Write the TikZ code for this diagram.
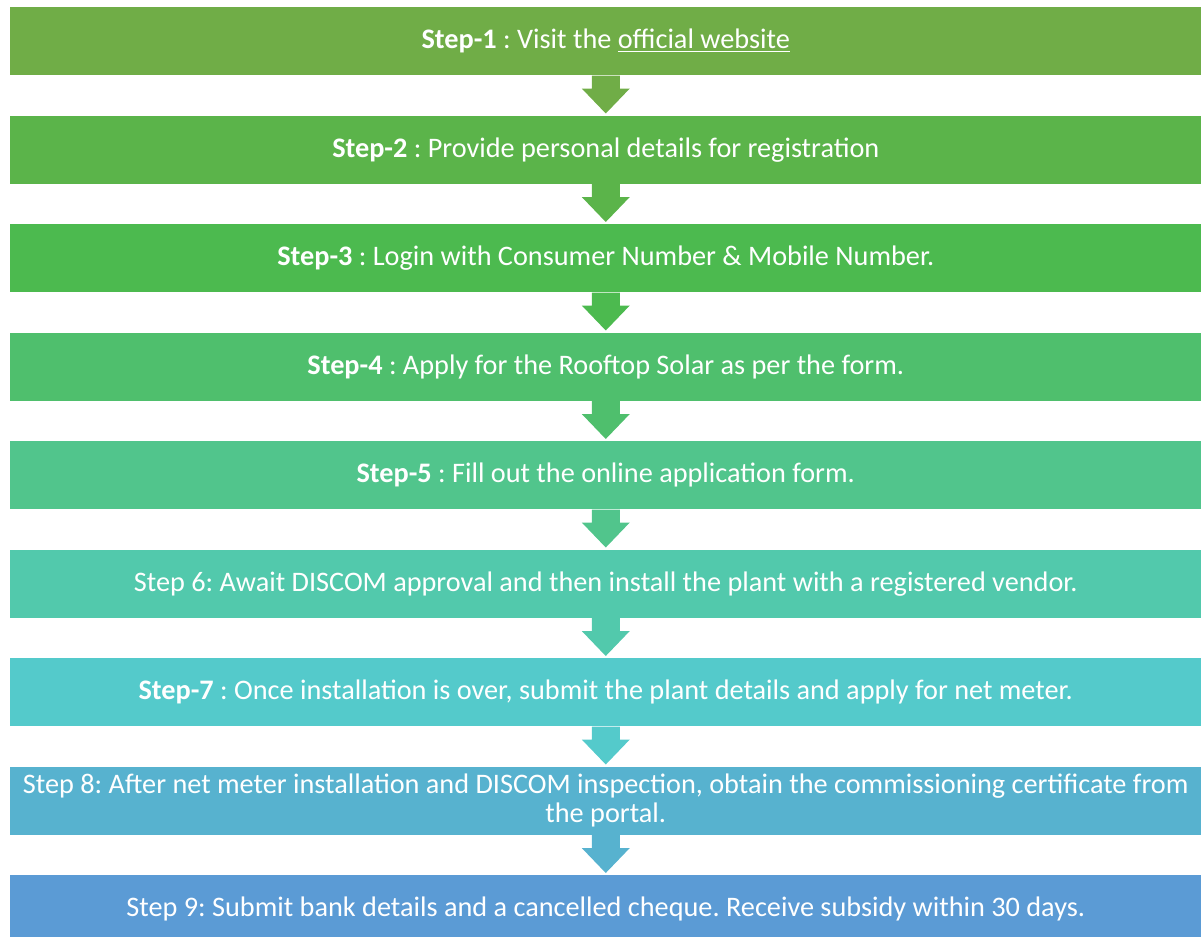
\documentclass[tikz,border=0pt]{standalone}
\usepackage{fontspec}
\setmainfont{Carlito}
\usetikzlibrary{calc}
\definecolor{c1}{HTML}{70AD47}
\definecolor{c2}{HTML}{5BB44A}
\definecolor{c3}{HTML}{4CBA4F}
\definecolor{c4}{HTML}{4FBF6D}
\definecolor{c5}{HTML}{51C58C}
\definecolor{c6}{HTML}{52C9AC}
\definecolor{c7}{HTML}{54CACB}
\definecolor{c8}{HTML}{57B2CF}
\definecolor{c9}{HTML}{5B9BD5}
\tikzset{
  stepbox/.style={draw=none, anchor=north west, minimum width=1191*0.75pt, minimum height=68*0.75pt,
    inner sep=0pt, text=white, font=\fontsize{21.2}{21.75}\selectfont\frenchspacing, align=center},
}
\newcommand{\flowarrow}[3]{%
  \fill[#3] ($(#1.south)+(-14,0)$) -- ($(#1.south)+(-14,13)$) -- ($(#1.south)+(-24,13)$)
    -- ($(#2.north)+(0,-2)$) -- ($(#1.south)+(24,13)$) -- ($(#1.south)+(14,13)$)
    -- ($(#1.south)+(14,0)$) -- cycle;}
\begin{document}
\begin{tikzpicture}[x=0.75pt,y=-0.75pt]
\useasboundingbox (0,0) rectangle (1201,937);
\clip (0,0) rectangle (1201,937);
\node[stepbox, fill=c1] (b1) at (10,7) {\textbf{Step-1} : Visit the \underline{official website}};
\node[stepbox, fill=c2] (b2) at (10,115.5) {\textbf{Step-2} : Provide personal details for registration};
\node[stepbox, fill=c3] (b3) at (10,224) {\textbf{Step-3} : Login with Consumer Number \& Mobile Number.};
\node[stepbox, fill=c4] (b4) at (10,332.5) {\textbf{Step-4} : Apply for the Rooftop Solar as per the form.};
\node[stepbox, fill=c5] (b5) at (10,441) {\textbf{Step-5} : Fill out the online application form.};
\node[stepbox, fill=c6] (b6) at (10,549.5) {Step 6: Await DISCOM approval and then install the plant with a registered vendor.};
\node[stepbox, fill=c7] (b7) at (10,658) {\textbf{Step-7} : Once installation is over, submit the plant details and apply for net meter.};
\node[stepbox, fill=c8] (b8) at (10,766.5) {Step 8: After net meter installation and DISCOM inspection, obtain the commissioning certificate from\\the portal.};
\node[stepbox, fill=c9] (b9) at (10,875) {Step 9: Submit bank details and a cancelled cheque. Receive subsidy within 30 days.};
\flowarrow{b1}{b2}{c1}
\flowarrow{b2}{b3}{c2}
\flowarrow{b3}{b4}{c3}
\flowarrow{b4}{b5}{c4}
\flowarrow{b5}{b6}{c5}
\flowarrow{b6}{b7}{c6}
\flowarrow{b7}{b8}{c7}
\flowarrow{b8}{b9}{c8}
\end{tikzpicture}
\end{document}
